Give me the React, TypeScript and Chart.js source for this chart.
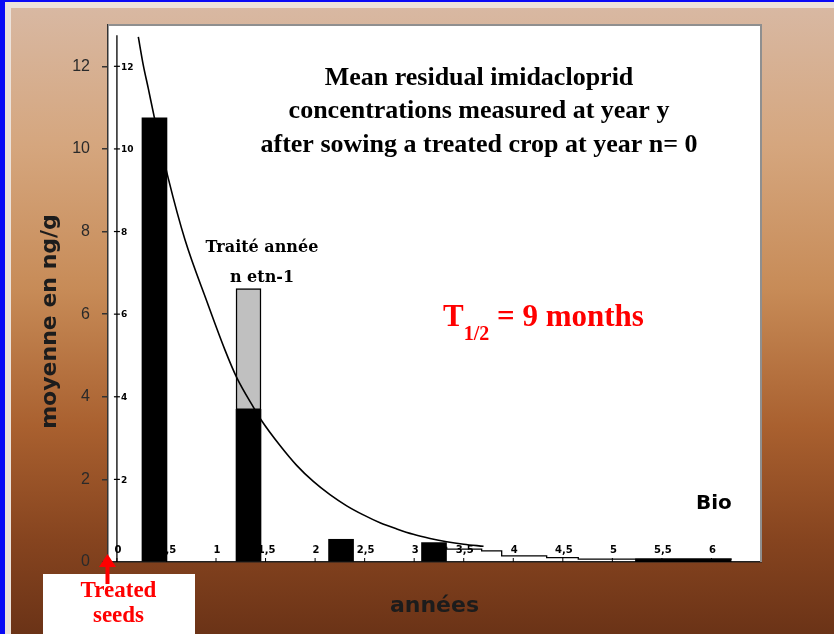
import React, { useEffect, useRef } from "react";
import { Chart, registerables } from "chart.js";

Chart.register(...registerables);

const W = 834;
const H = 634;

// ---- data ----
const yTickValues = [0, 2, 4, 6, 8, 10, 12];
const innerYTickValues = [2, 4, 6, 8, 10, 12];
const innerYTickLabels = ["2", "4", "6", "8", "10", "12"];
const innerXTickValues = [0, 0.5, 1, 1.5, 2, 2.5, 3, 3.5, 4, 4.5, 5, 5.5, 6];
const innerXTickLabels = ["0", "0,5", "1", "1,5", "2", "2,5", "3", "3,5", "4", "4,5", "5", "5,5", "6"];

const barYears = [0.379, 1.328, 2.262, 3.2];
const barValues = [10.75, 3.69, 0.55, 0.47];

const prevYearBarYears = [1.328];
const prevYearBarLow = [3.69];
const prevYearBarHigh = [6.62];

const tailYears = [3.328, 3.681, 3.883, 4.337, 4.656, 5.229];
const tailValues = [0.37, 0.31, 0.27, 0.15, 0.105, 0.07];

const bioYears = [5.229, 6.204];
const bioValues = [0.07, 0.07];

const curveYears = [0.216, 0.266, 0.317, 0.377, 0.519, 0.687, 0.909, 1.091, 1.212, 1.377, 1.461, 1.646, 1.814, 1.982, 2.15, 2.319, 2.487, 2.655, 2.824, 2.991, 3.16, 3.328, 3.5, 3.7];
const curveValues = [12.71, 12.03, 11.46, 10.77, 9.28, 7.8, 6.3, 5.13, 4.45, 3.75, 3.42, 2.82, 2.34, 1.95, 1.63, 1.36, 1.14, 0.95, 0.8, 0.67, 0.57, 0.49, 0.43, 0.38];

const titleLines = [
  "Mean residual imidacloprid",
  "concentrations measured at year y",
  "after sowing a treated crop at year n= 0",
];
const yAxisTitle = "moyenne en ng/g";
const xAxisTitle = "années";
const treatedLabel = ["Treated", "seeds"];
const traiteLabel = ["Traité année", "n etn-1"];
const bioLabel = "Bio";

const X_MIN = -0.09;
const X_MAX = 6.5;
const Y_MAX = 13;
const INNER_AXIS_TOP = 12.75;

const decorPlugin = {
  id: "decor",
  beforeDraw(chart: any) {
    const { ctx, chartArea: a } = chart;
    ctx.save();
    ctx.fillStyle = "#ffffff";
    ctx.fillRect(a.left, a.top, a.right - a.left, a.bottom - a.top);
    ctx.restore();
  },
  beforeDatasetsDraw(chart: any) {
    const { ctx, chartArea: a, scales } = chart;
    const x = scales.x;
    const y = scales.y;
    const x0 = x.getPixelForValue(0);
    ctx.save();
    ctx.strokeStyle = "#000";
    ctx.lineWidth = 1.3;
    ctx.beginPath();
    ctx.moveTo(x0, y.getPixelForValue(INNER_AXIS_TOP));
    ctx.lineTo(x0, a.bottom);
    ctx.stroke();
    ctx.fillStyle = "#000";
    ctx.textBaseline = "middle";
    ctx.textAlign = "left";
    ctx.font = 'bold 9px "DejaVu Sans"';
    ctx.lineWidth = 1.2;
    innerYTickValues.forEach((v, i) => {
      const py = y.getPixelForValue(v);
      ctx.beginPath();
      ctx.moveTo(x0 - 3, py);
      ctx.lineTo(x0 + 3, py);
      ctx.stroke();
      ctx.fillText(innerYTickLabels[i], x0 + 4, py + 1);
    });
    ctx.textAlign = "center";
    ctx.font = 'bold 10px "DejaVu Sans"';
    ctx.lineWidth = 1;
    innerXTickValues.forEach((v, i) => {
      const px = x.getPixelForValue(v);
      ctx.beginPath();
      ctx.moveTo(px, a.bottom - 4);
      ctx.lineTo(px, a.bottom);
      ctx.stroke();
      ctx.fillText(innerXTickLabels[i], px + 1, a.bottom - 12);
    });
    ctx.restore();
  },
  afterDraw(chart: any) {
    const { ctx, chartArea: a, scales } = chart;
    const x = scales.x;
    const y = scales.y;
    ctx.save();
    // plot box border (top & right)
    ctx.strokeStyle = "#8f8f8f";
    ctx.lineWidth = 2;
    ctx.beginPath();
    ctx.moveTo(a.left, a.top);
    ctx.lineTo(a.right, a.top);
    ctx.lineTo(a.right, a.bottom);
    ctx.stroke();

    // title
    ctx.fillStyle = "#000";
    ctx.textAlign = "center";
    ctx.textBaseline = "alphabetic";
    ctx.font = 'bold 26px "Liberation Serif"';
    const tx = x.getPixelForValue(3.654);
    [11.55, 10.75, 9.93].forEach((v, i) => {
      ctx.fillText(titleLines[i], tx, y.getPixelForValue(v));
    });

    // Traité année
    ctx.font = 'bold 16px "DejaVu Serif"';
    const trx = x.getPixelForValue(1.464);
    ctx.fillText(traiteLabel[0], trx, y.getPixelForValue(7.5));
    ctx.fillText(traiteLabel[1], trx, y.getPixelForValue(6.78));

    // Bio
    ctx.textAlign = "left";
    ctx.font = 'bold 20px "DejaVu Sans"';
    ctx.fillText(bioLabel, x.getPixelForValue(5.844), y.getPixelForValue(1.283));

    // T1/2 = 9 months
    ctx.fillStyle = "#ff0000";
    let hx = x.getPixelForValue(3.291);
    const hy = y.getPixelForValue(5.713);
    ctx.font = 'bold 31px "Liberation Serif"';
    ctx.fillText("T", hx, hy);
    hx += ctx.measureText("T").width;
    ctx.font = 'bold 20px "Liberation Serif"';
    ctx.fillText("1/2", hx, hy + 13.5);
    hx += ctx.measureText("1/2").width;
    ctx.font = 'bold 31px "Liberation Serif"';
    ctx.fillText(" = 9 months", hx, hy);

    // y axis title
    ctx.fillStyle = "#1c1c1c";
    ctx.font = 'bold 22px "DejaVu Sans"';
    ctx.textAlign = "center";
    ctx.textBaseline = "middle";
    ctx.translate(a.left - 58, (a.top + a.bottom) / 2 + 28);
    ctx.rotate(-Math.PI / 2);
    ctx.fillText(yAxisTitle, 0, 0);
    ctx.restore();

    // Treated seeds box + arrow
    ctx.save();
    const bl = a.left - 65;
    const bt = a.bottom + 12;
    ctx.fillStyle = "#ffffff";
    ctx.fillRect(bl, bt, 152, chart.height - bt);
    ctx.fillStyle = "#ff0000";
    ctx.font = 'bold 23px "Liberation Serif"';
    ctx.textAlign = "center";
    ctx.textBaseline = "alphabetic";
    ctx.fillText(treatedLabel[0], bl + 75.5, bt + 23);
    ctx.fillText(treatedLabel[1], bl + 75.5, bt + 48);
    const ax = a.left - 0.5;
    ctx.fillRect(ax - 2, a.bottom + 4, 4, 18);
    ctx.beginPath();
    ctx.moveTo(ax, a.bottom - 8);
    ctx.lineTo(ax - 8.5, a.bottom + 5);
    ctx.lineTo(ax + 8.5, a.bottom + 5);
    ctx.closePath();
    ctx.fill();
    ctx.restore();
  },
};

export default function App() {
  const ref = useRef<HTMLCanvasElement | null>(null);

  useEffect(() => {
    if (!ref.current) return;
    const chart = new Chart(ref.current, {
      type: "line",
      data: {
        datasets: [
          {
            type: "line",
            label: "decay",
            data: curveYears.map((t, i) => ({ x: t, y: curveValues[i] })),
            borderColor: "#000",
            borderWidth: 1.6,
            pointRadius: 0,
            cubicInterpolationMode: "monotone",
            fill: false,
            order: 0,
          },
          {
            type: "line",
            label: "tail",
            data: tailYears.map((t, i) => ({ x: t, y: tailValues[i] })),
            borderColor: "#000",
            borderWidth: 1.3,
            pointRadius: 0,
            stepped: "after",
            fill: false,
            order: 1,
          },
          {
            type: "line",
            label: "bio",
            data: bioYears.map((t, i) => ({ x: t, y: bioValues[i] })),
            borderColor: "#000",
            backgroundColor: "#000",
            borderWidth: 1.5,
            pointRadius: 0,
            fill: "origin",
            order: 1,
          },
          {
            type: "bar",
            label: "prev",
            data: prevYearBarYears.map((t, i) => ({ x: t, y: [prevYearBarLow[i], prevYearBarHigh[i]] })),
            backgroundColor: "#c0c0c0",
            borderColor: "#000",
            borderWidth: 1.5,
            borderSkipped: false,
            barThickness: 25,
            grouped: false,
            order: 2,
          },
          {
            type: "bar",
            label: "year",
            data: barYears.map((t, i) => ({ x: t, y: barValues[i] })),
            backgroundColor: "#000",
            barThickness: 25,
            grouped: false,
            order: 3,
          },
        ],
      },
      options: {
        animation: false,
        responsive: false,
        maintainAspectRatio: false,
        events: [],
        layout: { padding: { left: 0, top: 25, right: 73, bottom: 0 } },
        plugins: { legend: { display: false }, tooltip: { enabled: false }, title: { display: false } },
        scales: {
          x: {
            type: "linear",
            min: X_MIN,
            max: X_MAX,
            offset: false,
            ticks: { display: false },
            grid: { display: false },
            border: { display: true, color: "#222", width: 1.5 },
            title: {
              display: true,
              text: xAxisTitle,
              color: "#1c1c1c",
              font: { family: "DejaVu Sans", weight: "bold", size: 22 },
              padding: { top: 0, bottom: 15 },
            },
            afterFit: (s: any) => {
              s.height = 72;
            },
          },
          y: {
            type: "linear",
            min: 0,
            max: Y_MAX,
            afterBuildTicks: (s: any) => {
              s.ticks = yTickValues.map((v) => ({ value: v }));
            },
            ticks: {
              color: "#2a2a2a",
              font: { family: "Liberation Sans", size: 16 },
              padding: 12,
            },
            grid: { drawOnChartArea: false, drawTicks: true, tickLength: 6, color: "#333", lineWidth: 1.5 },
            border: { display: true, color: "#333", width: 1.5 },
            afterFit: (s: any) => {
              s.width = 108;
            },
          },
        },
      } as any,
      plugins: [decorPlugin],
    } as any);
    return () => chart.destroy();
  }, []);

  return (
    <div style={{ position: "fixed", left: 0, top: 0, width: W, height: H, background: "#0a0af5", overflow: "hidden" }}>
      <div style={{ position: "absolute", left: 5, top: 2, right: 0, bottom: 0, background: "#ece2db" }} />
      <div
        style={{
          position: "absolute",
          left: 11,
          top: 8,
          right: 0,
          bottom: 0,
          background:
            "linear-gradient(to bottom, #d8b8a2 0%, #d5a67e 22%, #c78b57 45%, #a9602f 67%, #86441f 85%, #6b3317 100%)",
        }}
      />
      <canvas ref={ref} width={W} height={H} style={{ position: "absolute", left: 0, top: 0, width: W, height: H }} />
    </div>
  );
}
